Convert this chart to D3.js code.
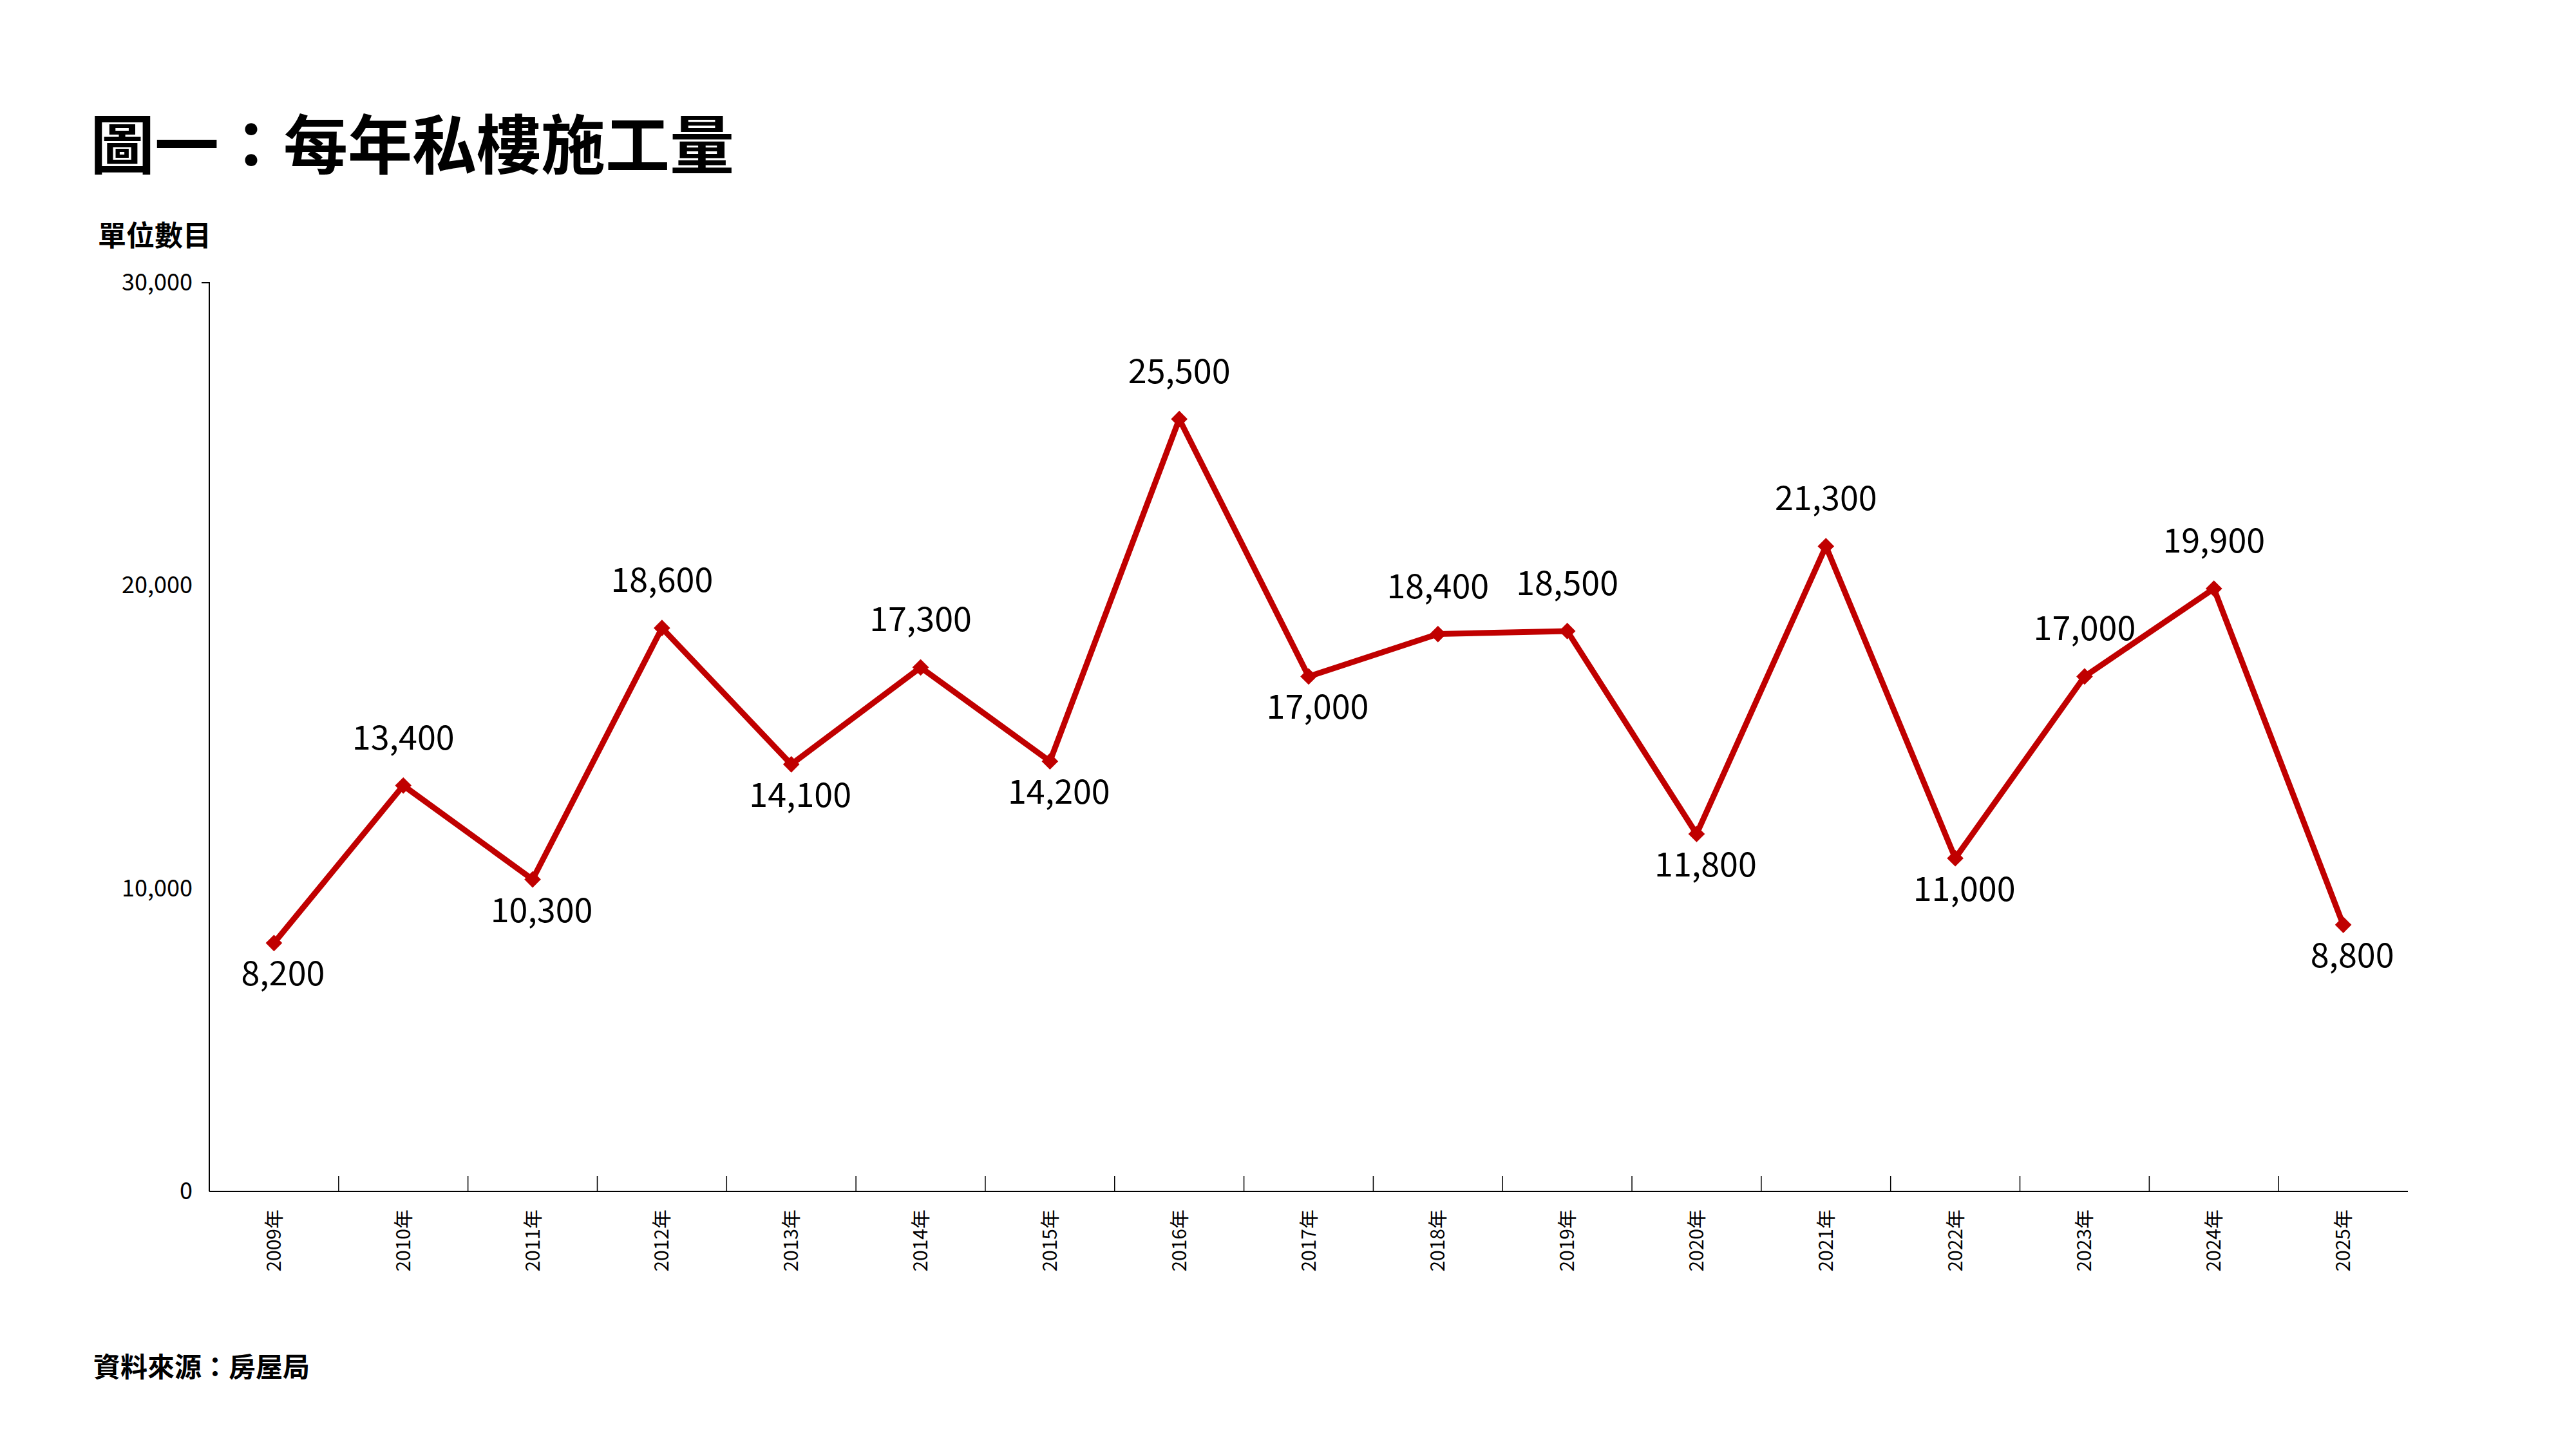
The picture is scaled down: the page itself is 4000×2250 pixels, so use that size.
<!DOCTYPE html>
<html>
<head>
<meta charset="utf-8">
<script src="https://cdn.jsdelivr.net/npm/d3@7"></script>
<style>
  body { margin: 0; background: #fff; }
  text { font-family: "Noto Sans CJK TC", "Noto Sans", sans-serif; }
</style>
</head>
<body>
<script>
const years = ['2009年','2010年','2011年','2012年','2013年','2014年','2015年','2016年','2017年',
  '2018年','2019年','2020年','2021年','2022年','2023年','2024年','2025年'];
const units = [8200,13400,10300,18600,14100,17300,14200,25500,17000,18400,18500,11800,21300,11000,17000,19900,8800];
// label placed above (true) or below (false) the point
const labelAbove = [false,true,false,true,false,true,false,true,false,true,true,false,true,false,true,true,false];
const yTicks = [0,10000,20000,30000];

const W = 4000, H = 2250;
const margin = {top: 439, left: 325, right: 261, bottom: 400};
const width = W - margin.left - margin.right;
const height = H - margin.top - margin.bottom;

const svg = d3.select('body').append('svg').attr('width', W).attr('height', H);

svg.append('text').attr('x', 140).attr('y', 262)
  .attr('font-size', 100).attr('font-weight', 'bold').text('圖一：每年私樓施工量');
svg.append('text').attr('x', 152).attr('y', 382)
  .attr('font-size', 44).attr('font-weight', 'bold').text('單位數目');
svg.append('text').attr('x', 145).attr('y', 2138)
  .attr('font-size', 42).attr('font-weight', 'bold').text('資料來源：房屋局');

const g = svg.append('g').attr('transform', `translate(${margin.left},${margin.top})`);

const x = d3.scaleBand().domain(years).range([0, width]);
const y = d3.scaleLinear().domain([0, 30000]).range([height, 0]);

// y axis
const gy = g.append('g').call(d3.axisLeft(y).tickValues(yTicks).tickFormat(d3.format(',')).tickSize(12).tickPadding(14));
gy.select('.domain').attr('stroke', '#000').attr('stroke-width', 2).attr('d', `M-12,0H0V${height}`);
gy.selectAll('.tick line').remove();
gy.selectAll('.tick text').attr('font-family', '"Open Sans", sans-serif').attr('font-size', 36).attr('fill', '#000');

// x axis
const gx = g.append('g').attr('transform', `translate(0,${height})`)
  .call(d3.axisBottom(x).tickSize(0).tickPadding(0));
gx.select('.domain').attr('stroke', '#000').attr('stroke-width', 2).attr('d', `M0,0H${width}`);
gx.selectAll('.tick text')
  .attr('font-family', '"DejaVu Sans", sans-serif').attr('font-size', 30).attr('fill', '#000')
  .attr('transform', 'rotate(-90)').attr('text-anchor', 'end')
  .attr('x', -28).attr('y', 0).attr('dy', '0.35em');
g.append('g').selectAll('line').data(years.slice(1)).join('line')
  .attr('x1', d => x(d)).attr('x2', d => x(d))
  .attr('y1', height - 24).attr('y2', height)
  .attr('stroke', '#000').attr('stroke-width', 1.5);

const cx = (d, i) => x(years[i]) + x.bandwidth() / 2;

g.append('path').datum(units)
  .attr('fill', 'none').attr('stroke', '#c00000').attr('stroke-width', 9).attr('stroke-linejoin', 'round')
  .attr('d', d3.line().x((d, i) => cx(d, i)).y(d => y(d)));

g.selectAll('.pt').data(units).join('path').attr('class', 'pt')
  .attr('d', d3.symbol(d3.symbolDiamond2, 420))
  .attr('transform', (d, i) => `translate(${cx(d, i)},${y(d)})`)
  .attr('fill', '#c00000');

g.selectAll('.lbl').data(units).join('text').attr('class', 'lbl')
  .attr('x', (d, i) => cx(d, i) + (labelAbove[i] ? 0 : 14))
  .attr('y', (d, i) => y(d) + (labelAbove[i] ? -56 : 66))
  .attr('text-anchor', 'middle')
  .attr('font-family', '"Noto Sans", sans-serif').attr('font-size', 52).attr('fill', '#000')
  .text(d => d3.format(',')(d));
</script>
</body>
</html>
